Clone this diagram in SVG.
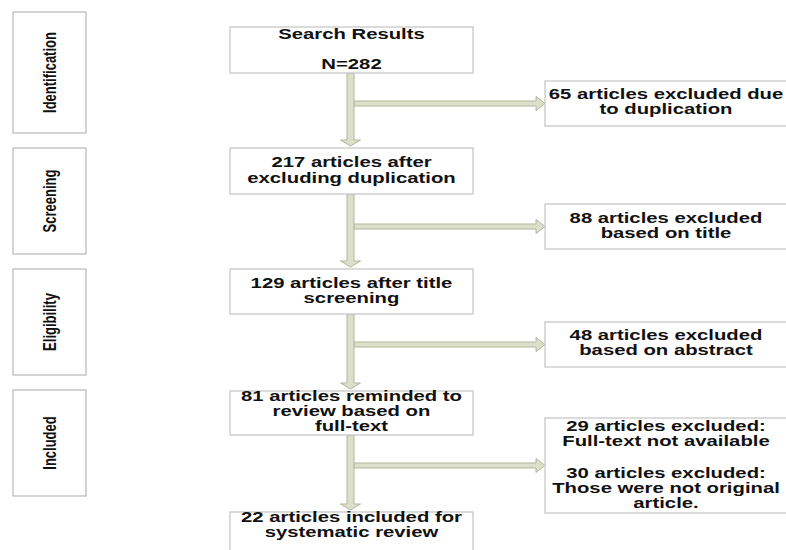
<svg xmlns="http://www.w3.org/2000/svg" width="786" height="550" viewBox="0 0 786 550">
<style>
.bg{fill:#ffffff}
.box{fill:#ffffff;stroke:#c4c4c4;stroke-width:1.2}
.phase{fill:#ffffff;stroke:#b8b8b8;stroke-width:1.2}
.arrow{fill:#dcdfca;stroke:#b3b69b;stroke-width:1}
.t{font-family:"Liberation Sans",Arial,sans-serif;font-weight:bold;font-size:14px;text-anchor:middle;fill:#111111}
.p{font-family:"Liberation Sans",Arial,sans-serif;font-weight:bold;font-size:13px;text-anchor:middle;fill:#111111}
</style>
<rect class="bg" x="0" y="0" width="786" height="550"/>

<g id="connectors">
  <path class="arrow" d="M354,101 L536,101 L536,96.5 L545,103.5 L536,110.5 L536,106 L354,106 Z"/>
  <path class="arrow" d="M354,224 L536,224 L536,219.5 L545,226.5 L536,233.5 L536,229 L354,229 Z"/>
  <path class="arrow" d="M354,342 L536,342 L536,337.5 L545,344.5 L536,351.5 L536,347 L354,347 Z"/>
  <path class="arrow" d="M354,463 L536,463 L536,458.5 L545,465.5 L536,472.5 L536,468 L354,468 Z"/>
  <path class="arrow" d="M347,73 L354,73 L354,140 L360.5,140 L350.5,146 L340.5,140 L347,140 Z"/>
  <path class="arrow" d="M347,194 L354,194 L354,261 L360.5,261 L350.5,267 L340.5,261 L347,261 Z"/>
  <path class="arrow" d="M347,314 L354,314 L354,383 L360.5,383 L350.5,389 L340.5,383 L347,383 Z"/>
  <path class="arrow" d="M347,435 L354,435 L354,504 L360.5,504 L350.5,510 L340.5,504 L347,504 Z"/>
</g>

<g id="phase-identification">
  <rect class="phase" x="13" y="12" width="73" height="121"/>
  <text class="p" transform="translate(56,72.5) scale(1.45,1) rotate(-90)" x="0" y="0">Identification</text>
</g>
<g id="phase-screening">
  <rect class="phase" x="13" y="148" width="73" height="106"/>
  <text class="p" transform="translate(56,201) scale(1.45,1) rotate(-90)" x="0" y="0">Screening</text>
</g>
<g id="phase-eligibility">
  <rect class="phase" x="13" y="269" width="73" height="106"/>
  <text class="p" transform="translate(56,322) scale(1.45,1) rotate(-90)" x="0" y="0">Eligibility</text>
</g>
<g id="phase-included">
  <rect class="phase" x="13" y="390" width="73" height="106"/>
  <text class="p" transform="translate(56,443) scale(1.45,1) rotate(-90)" x="0" y="0">Included</text>
</g>

<g id="search-results">
  <rect class="box" x="230" y="27" width="243" height="46"/>
  <g transform="translate(351.5,0) scale(1.45,1)">
    <text class="t" x="0" y="39">Search Results</text>
    <text class="t" x="0" y="69">N=282</text>
  </g>
</g>
<g id="after-duplication">
  <rect class="box" x="230" y="148" width="243" height="46"/>
  <g transform="translate(351.5,0) scale(1.45,1)">
    <text class="t" x="0" y="167">217 articles after</text>
    <text class="t" x="0" y="183">excluding duplication</text>
  </g>
</g>
<g id="after-title">
  <rect class="box" x="230" y="269" width="243" height="45"/>
  <g transform="translate(351.5,0) scale(1.45,1)">
    <text class="t" x="0" y="288">129 articles after title</text>
    <text class="t" x="0" y="303">screening</text>
  </g>
</g>
<g id="full-text">
  <rect class="box" x="230" y="391" width="243" height="44"/>
  <g transform="translate(351.5,0) scale(1.45,1)">
    <text class="t" x="0" y="401">81 articles reminded to</text>
    <text class="t" x="0" y="416.5">review based on</text>
    <text class="t" x="0" y="431.5">full-text</text>
  </g>
</g>
<g id="included-final">
  <rect class="box" x="230" y="512" width="243" height="50"/>
  <g transform="translate(351.5,0) scale(1.45,1)">
    <text class="t" x="0" y="522">22 articles included for</text>
    <text class="t" x="0" y="537">systematic review</text>
  </g>
</g>

<g id="excl-duplication">
  <rect class="box" x="545" y="81" width="260" height="45"/>
  <g transform="translate(666,0) scale(1.45,1)">
    <text class="t" x="0" y="99">65 articles excluded due</text>
    <text class="t" x="0" y="114">to duplication</text>
  </g>
</g>
<g id="excl-title">
  <rect class="box" x="545" y="204" width="260" height="45"/>
  <g transform="translate(666,0) scale(1.45,1)">
    <text class="t" x="0" y="223">88 articles excluded</text>
    <text class="t" x="0" y="238">based on title</text>
  </g>
</g>
<g id="excl-abstract">
  <rect class="box" x="545" y="322" width="260" height="45"/>
  <g transform="translate(666,0) scale(1.45,1)">
    <text class="t" x="0" y="340">48 articles excluded</text>
    <text class="t" x="0" y="355">based on abstract</text>
  </g>
</g>
<g id="excl-fulltext">
  <rect class="box" x="545" y="418" width="260" height="95"/>
  <g transform="translate(666,0) scale(1.45,1)">
    <text class="t" x="0" y="431.5">29 articles excluded:</text>
    <text class="t" x="0" y="446.5">Full-text not available</text>
    <text class="t" x="0" y="478">30 articles excluded:</text>
    <text class="t" x="0" y="493">Those were not original</text>
    <text class="t" x="0" y="508">article.</text>
  </g>
</g>
</svg>
